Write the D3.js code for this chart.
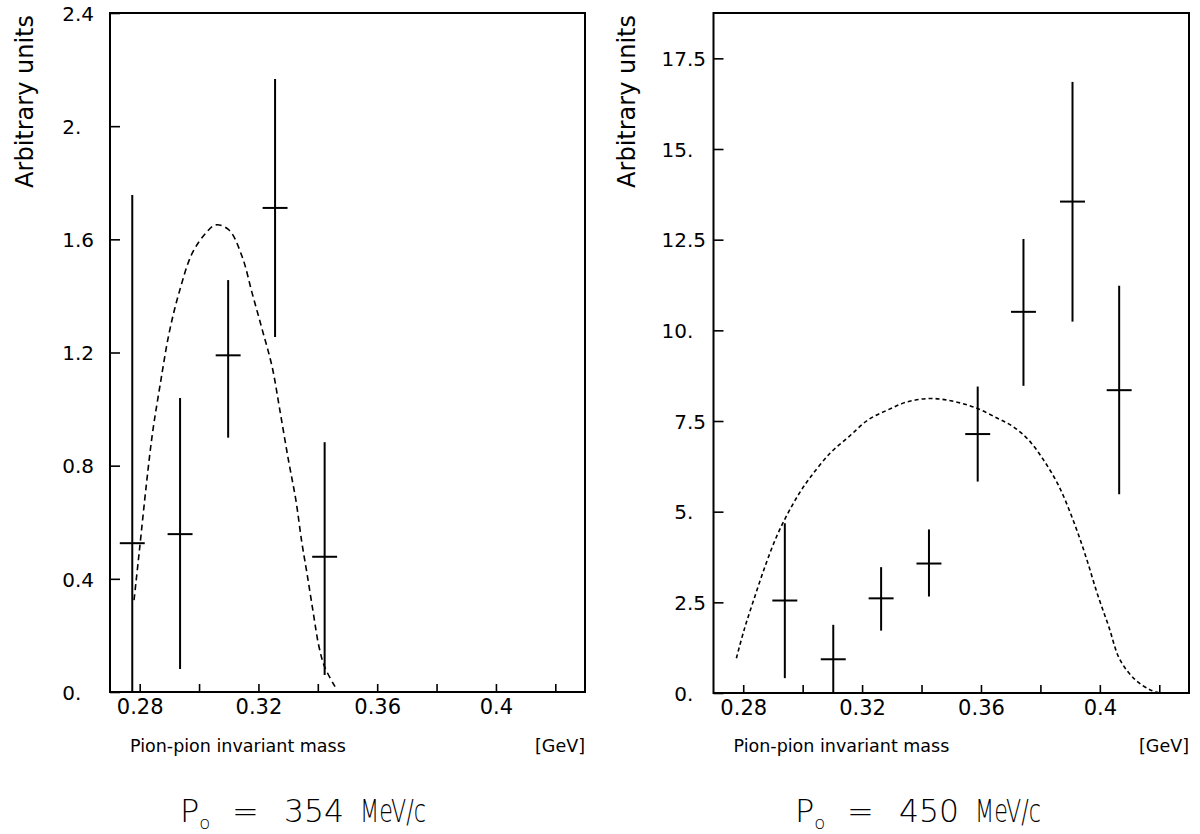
<!DOCTYPE html>
<html>
<head>
<meta charset="utf-8">
<script src="https://cdn.jsdelivr.net/npm/d3@7"></script>
<style>
  body { margin: 0; background: #fff; }
  svg text { font-family: "DejaVu Sans", sans-serif; fill: #000; }
</style>
</head>
<body>
<svg width="1200" height="834"></svg>
<script>
/*
  ==============================================================================
                                  Data
  ==============================================================================
*/

// pion-pion invariant mass axis [GeV], shared by both panels
var massDomain = [0.27, 0.43];
var massTicks = [0.28, 0.30, 0.32, 0.34, 0.36, 0.38, 0.40, 0.42];
var massLabels = ["0.28", "", "0.32", "", "0.36", "", "0.4", ""];
var binHalf = 0.0042;

// left panel: P0 = 354 MeV/c
var leftMomentum = "354";
var leftYMax = 2.4;
var leftTicks = [0, 0.4, 0.8, 1.2, 1.6, 2.0, 2.4];
var leftTickLabels = ["0.", "0.4", "0.8", "1.2", "1.6", "2.", "2.4"];
var leftMass = [0.2775, 0.2936, 0.3098, 0.3256, 0.3423];
var leftVal  = [0.526, 0.558, 1.19, 1.711, 0.478];
var leftLo   = [0, 0.081, 0.899, 1.255, 0.06];
var leftHi   = [1.757, 1.039, 1.456, 2.167, 0.883];
var leftCurveMass = [0.2781, 0.2798, 0.2823, 0.2843, 0.2868, 0.2899, 0.2932,
                     0.2977, 0.3022, 0.3056, 0.3101, 0.3145, 0.3179, 0.3213, 0.3246, 0.3272,
                     0.3301, 0.3326, 0.3346, 0.3365, 0.3385, 0.3404, 0.3423, 0.3458];
var leftCurveVal  = [0.325, 0.49, 0.738, 0.914, 1.08, 1.268, 1.409,
                     1.551, 1.621, 1.651, 1.633, 1.539, 1.409, 1.28, 1.15, 0.997,
                     0.82, 0.679, 0.53, 0.41, 0.278, 0.16, 0.089, 0.019];

// right panel: P0 = 450 MeV/c
var rightMomentum = "450";
var rightYMax = 18.75;
var rightTicks = [0, 2.5, 5, 7.5, 10, 12.5, 15, 17.5];
var rightTickLabels = ["0.", "2.5", "5.", "7.5", "10.", "12.5", "15.", "17.5"];
var rightMass = [0.2940, 0.3103, 0.3264, 0.3425, 0.3589, 0.3743, 0.3908, 0.4065];
var rightVal  = [2.55, 0.93, 2.61, 3.57, 7.14, 10.51, 13.55, 8.35];
var rightLo   = [0.41, 0, 1.72, 2.66, 5.83, 8.47, 10.24, 5.48];
var rightHi   = [4.68, 1.88, 3.47, 4.51, 8.45, 12.52, 16.85, 11.23];
var rightCurveMass = [0.2777, 0.2803, 0.2835, 0.2873, 0.2912, 0.2950, 0.2989, 0.3027, 0.3092,
                      0.3156, 0.3220, 0.3285, 0.3349, 0.3426, 0.3503, 0.3580, 0.3657, 0.3709,
                      0.3760, 0.3811, 0.3863, 0.3914, 0.3953, 0.3991, 0.4030, 0.4068, 0.4120,
                      0.4171, 0.4197];
var rightCurveVal  = [0.96, 1.74, 2.56, 3.48, 4.31, 4.95, 5.51, 5.96, 6.61,
                      7.07, 7.53, 7.80, 8.02, 8.12, 8.05, 7.87, 7.57, 7.34,
                      6.98, 6.42, 5.69, 4.68, 3.76, 2.75, 1.83, 0.91, 0.36,
                      0.08, 0.01];

/*
  ==============================================================================
                                  Layout
  ==============================================================================
*/

var svg = d3.select('svg');

var panels = [
  { left: 110, right: 585, top: 13, bottom: 692, decimalX: 75, yTitleX: 33, titleX: 180,
    yMax: leftYMax, ticks: leftTicks, tickLabels: leftTickLabels, momentum: leftMomentum,
    mass: leftMass, val: leftVal, lo: leftLo, hi: leftHi,
    curveMass: leftCurveMass, curveVal: leftCurveVal, dash: "6,4" },
  { left: 713.5, right: 1189, top: 13, bottom: 693, decimalX: 687, yTitleX: 635, titleX: 795,
    yMax: rightYMax, ticks: rightTicks, tickLabels: rightTickLabels, momentum: rightMomentum,
    mass: rightMass, val: rightVal, lo: rightLo, hi: rightHi,
    curveMass: rightCurveMass, curveVal: rightCurveVal, dash: "4,3" }
];

/*
  ==============================================================================
                                  Drawing
  ==============================================================================
*/

const drawPanel = function(p) {
  var x = d3.scaleLinear().domain(massDomain).range([p.left, p.right]);
  var y = d3.scaleLinear().domain([0, p.yMax]).range([p.bottom, p.top]);
  var g = svg.append("g");

  // frame
  g.append("rect")
    .attr("x", p.left).attr("y", p.top)
    .attr("width", p.right - p.left).attr("height", p.bottom - p.top)
    .attr("fill", "none").attr("stroke", "#000").attr("stroke-width", 2);

  // x axis, ticks pointing in
  var xAxis = d3.axisBottom(x).tickValues(massTicks).tickSize(-8).tickSizeOuter(0)
    .tickFormat(function(d, i) { return massLabels[i]; });
  var gx = g.append("g").attr("transform", "translate(0," + p.bottom + ")").call(xAxis);
  gx.select(".domain").remove();
  gx.attr("font-size", 21);
  gx.selectAll("line").attr("stroke", "#000").attr("stroke-width", 1.6);
  gx.selectAll("text").attr("y", 7).attr("dy", "0.71em");

  // y axis, ticks pointing in, labels lined up on the decimal point
  var yAxis = d3.axisLeft(y).tickValues(p.ticks).tickSize(-10).tickSizeOuter(0).tickFormat("");
  var gy = g.append("g").attr("transform", "translate(" + p.left + ",0)").call(yAxis);
  gy.select(".domain").remove();
  gy.attr("font-size", 20);
  gy.selectAll("line").attr("stroke", "#000").attr("stroke-width", 1.6);
  gy.selectAll(".tick").each(function(d, i) {
    var parts = p.tickLabels[i].split(".");
    var t = d3.select(this);
    t.select("text").remove();
    t.append("text").attr("x", p.decimalX - p.left).attr("dy", "0.36em")
      .attr("text-anchor", "end").text(parts[0]);
    t.append("text").attr("x", p.decimalX - p.left).attr("dy", "0.36em")
      .attr("text-anchor", "start").text("." + parts[1]);
  });

  // model curve
  var line = d3.line()
    .x(function(d) { return x(d[0]); })
    .y(function(d) { return y(d[1]); })
    .curve(d3.curveCatmullRom);
  g.append("path")
    .datum(d3.zip(p.curveMass, p.curveVal))
    .attr("d", line)
    .attr("fill", "none").attr("stroke", "#000")
    .attr("stroke-width", 1.6).attr("stroke-dasharray", p.dash);

  // data points with error bars
  var pts = g.selectAll(".pt").data(d3.range(p.mass.length)).enter().append("g");
  pts.append("line")
    .attr("x1", function(i) { return x(p.mass[i]); })
    .attr("x2", function(i) { return x(p.mass[i]); })
    .attr("y1", function(i) { return y(p.lo[i]); })
    .attr("y2", function(i) { return y(p.hi[i]); })
    .attr("stroke", "#000").attr("stroke-width", 2);
  pts.append("line")
    .attr("x1", function(i) { return x(p.mass[i] - binHalf); })
    .attr("x2", function(i) { return x(p.mass[i] + binHalf); })
    .attr("y1", function(i) { return y(p.val[i]); })
    .attr("y2", function(i) { return y(p.val[i]); })
    .attr("stroke", "#000").attr("stroke-width", 2);

  // axis titles
  g.append("text")
    .attr("transform", "translate(" + p.yTitleX + "," + (p.top + 2) + ") rotate(-90)")
    .attr("text-anchor", "end").attr("font-size", 24)
    .text("Arbitrary units");
  g.append("text")
    .attr("x", p.left + 20).attr("y", 752).attr("font-size", 17.5)
    .text("Pion-pion invariant mass");
  g.append("text")
    .attr("x", p.right).attr("y", 752).attr("font-size", 17.5)
    .attr("text-anchor", "end")
    .text("[GeV]");

  // beam momentum below the panel
  var t = g.append("text").attr("x", p.titleX).attr("y", 822)
    .attr("font-size", 32).attr("font-weight", 200);
  t.append("tspan").text("P");
  t.append("tspan").attr("font-size", 18).attr("dy", 7).text("o");
  t.append("tspan").attr("x", p.titleX + 52).attr("dy", -7).text("=");
  t.append("tspan").attr("x", p.titleX + 104)
    .attr("textLength", 60).attr("lengthAdjust", "spacingAndGlyphs").text(p.momentum);
  t.append("tspan").attr("x", p.titleX + 180)
    .attr("textLength", 66).attr("lengthAdjust", "spacingAndGlyphs").text("MeV/c");
};

panels.forEach(drawPanel);
</script>
</body>
</html>
